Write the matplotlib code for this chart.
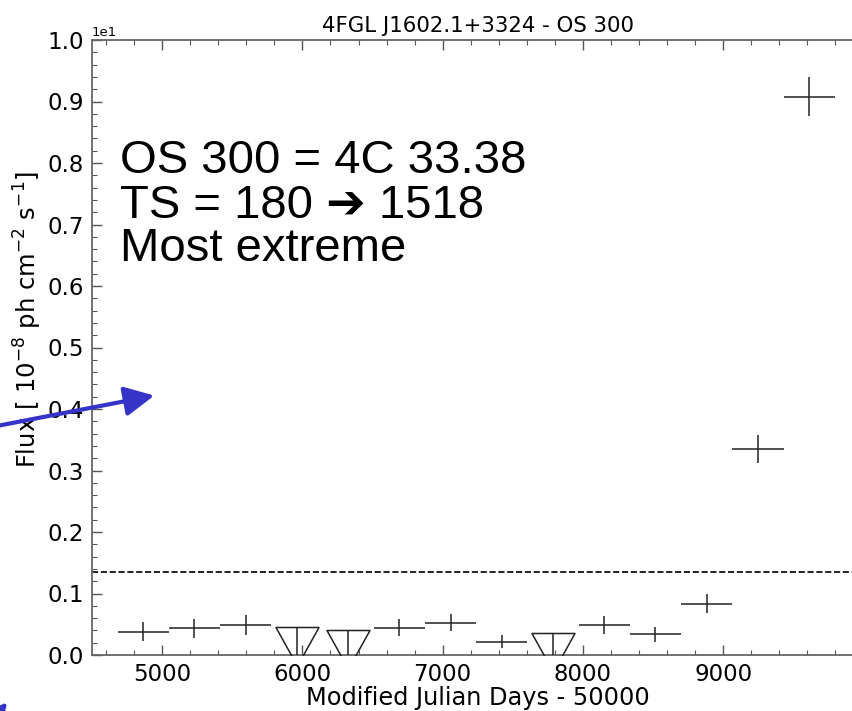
import numpy as np
import matplotlib
matplotlib.use("Agg")
import matplotlib.pyplot as plt
from matplotlib.path import Path
from matplotlib.patches import FancyArrowPatch
from matplotlib.ticker import MultipleLocator

# yearly bins, MJD - 50000
det_x = [4865, 5230, 5595, 6691, 7056, 7421, 8152, 8517, 8882, 9248, 9613]
det_flux = [0.379, 0.434, 0.488, 0.444, 0.525, 0.217, 0.488, 0.336, 0.834, 3.345, 9.078]
det_err = [0.155, 0.150, 0.155, 0.135, 0.138, 0.109, 0.146, 0.127, 0.157, 0.230, 0.314]
ul_x = [5960, 6326, 7787]
ul_flux = [0.460, 0.407, 0.363]
bin_half = 182.6
ts_line = 1.345
x_ticks = [5000, 6000, 7000, 8000, 9000]

title = "4FGL J1602.1+3324 - OS 300"
notes = ["OS 300 = 4C 33.38", "TS = 180 \u2794 1518", "Most extreme"]

W, H = 853, 711
fig = plt.figure(figsize=(W / 100, H / 100), dpi=100)
ax = fig.add_axes([92 / W, 1 - 655 / H, 771.5 / W, 615 / H])

col = "#222222"
ax.errorbar(det_x, det_flux, xerr=bin_half, yerr=det_err, fmt="none",
            ecolor=col, elinewidth=1.1, capsize=0, zorder=3)

# upper limits: open triangle hanging from the limit, line down to 0
tri = Path([(-1, 0), (1, 0), (0, -1.8), (-1, 0)],
           [Path.MOVETO, Path.LINETO, Path.LINETO, Path.CLOSEPOLY])
ax.plot(ul_x, ul_flux, linestyle="none", marker=tri, markersize=55.7,
        markerfacecolor="none", markeredgecolor=col, markeredgewidth=1.1, zorder=3)
ax.vlines(ul_x, 0, ul_flux, color=col, lw=1.1, zorder=3)

ax.axhline(ts_line, color="black", lw=1.2, ls="--", zorder=2)

ax.set_xlim(4500, 10000)
ax.set_ylim(0, 10)
ax.set_xticks(x_ticks)
ax.xaxis.set_minor_locator(MultipleLocator(200))
ax.yaxis.set_major_locator(MultipleLocator(1))
ax.yaxis.set_minor_locator(MultipleLocator(0.2))
ax.ticklabel_format(axis="y", style="sci", scilimits=(0, 0))
ax.yaxis.get_offset_text().set_fontsize(9.5)

ax.tick_params(which="both", direction="in", top=True, right=True,
               labelsize=16.5, color="#555555", pad=6)
ax.tick_params(which="major", length=7, width=1.0)
ax.tick_params(which="minor", length=3.5, width=0.8)
for s in ax.spines.values():
    s.set_color("#666666")
    s.set_linewidth(1.3)

ax.set_title(title, fontsize=15.3, pad=6)
ax.set_xlabel("Modified Julian Days - 50000", fontsize=17.3, labelpad=0)
ax.set_ylabel(r"Flux [ 10$^{-8}$ ph cm$^{-2}$ s$^{-1}$]", fontsize=17.5)
ax.yaxis.set_label_coords(-0.062, 0.545)

# slide annotations
fam = ["Liberation Sans", "DejaVu Sans"]
for txt, base in zip(notes, [172.7, 217.7, 261.0]):
    fig.text(120 / W, 1 - base / H, txt, fontsize=34, family=fam,
             ha="left", va="baseline")

blue = "#3434c8"
for start, end in [((-60, 437), (157, 395)), ((-40, 760), (9, 700))]:
    fig.add_artist(FancyArrowPatch(
        (start[0] / W, 1 - start[1] / H), (end[0] / W, 1 - end[1] / H),
        transform=fig.transFigure,
        arrowstyle="-|>,head_length=1.8,head_width=0.9", mutation_scale=10,
        color=blue, lw=3, zorder=10))

fig.savefig("out.png", dpi=100)
